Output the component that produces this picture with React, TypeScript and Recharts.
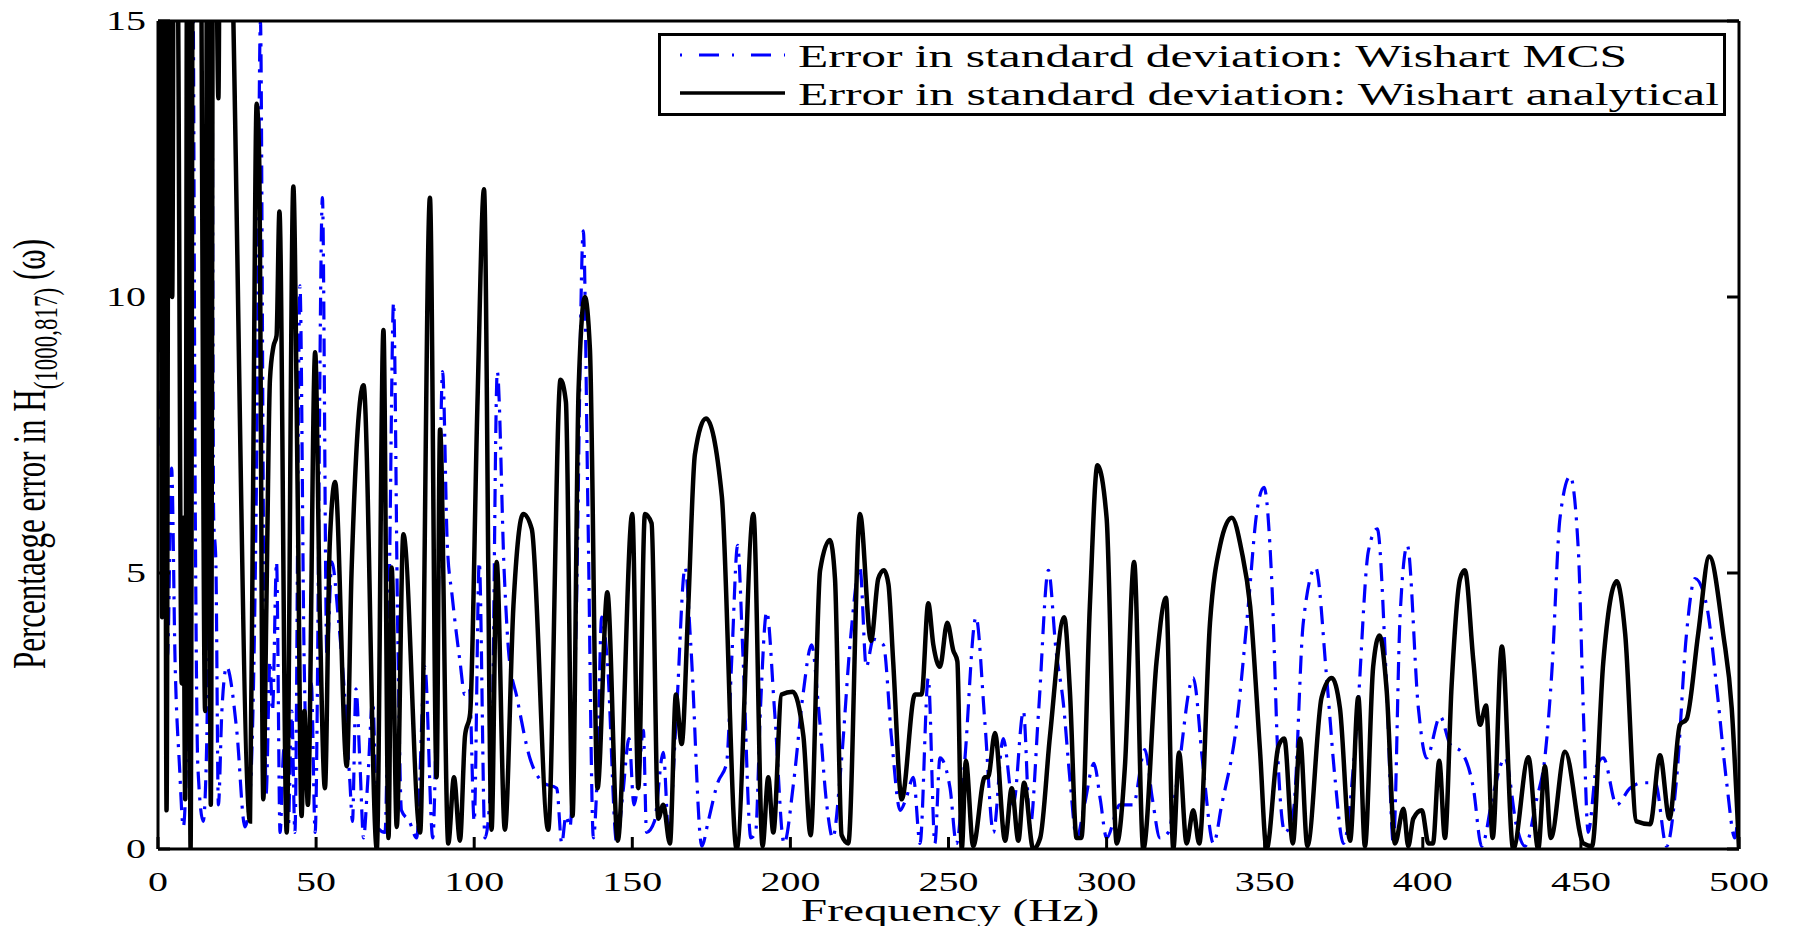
import React from 'react';
import { LineChart, Line, XAxis, YAxis, Legend } from 'recharts';

// ---------------- data ----------------
const xTickValues = [0, 50, 100, 150, 200, 250, 300, 350, 400, 450, 500];
const yTickValues = [0, 5, 10, 15];

const seriesNames = [
  'Error in standard deviation: Wishart MCS',
  'Error in standard deviation: Wishart analytical',
];

// Wishart MCS (blue dash-dot)
const mcsFreq = [
  0, 1.5, 3.0, 4.3, 5.4, 6.8, 8.0, 9.3, 10.2, 11.0, 11.8, 12.6, 14.3, 15.4, 16.3, 17.0, 17.6, 18.3, 19.1, 20.2,
  21.7, 24.9, 27.5, 29.1, 31.2, 32.4, 33.4, 34.2, 35.4, 36.2, 37.5, 38.6, 39.8, 41.2, 42.3, 43.3, 44.9, 46.2, 47.2, 48.5,
  49.7, 52.0, 53.4, 55.0, 57.0, 59.0, 60.7, 61.5, 62.6, 63.9, 65.0, 66.3, 67.9, 69.3, 71.8, 73.2, 74.5, 75.8, 77.0, 79.5,
  81.8, 84.4, 86.9, 88.5, 90.0, 91.5, 93.0, 95.5, 97.0, 98.5, 100.0, 101.6, 103.4, 105.5, 107.3, 109.5, 111.0, 113.5, 117.6, 121.9,
  126.1, 127.7, 129.0, 130.3, 132.2, 134.5, 136.0, 137.7, 139.0, 140.3, 142.0, 145.1, 147.0, 149.0, 150.5, 152.0, 153.5, 154.5, 157.0, 159.8,
  161.5, 164.0, 166.7, 168.5, 172.0, 174.0, 177.0, 179.8, 181.5, 183.3, 185.0, 187.5, 189.0, 190.5, 192.5, 195.0, 198.0, 201.0, 204.0, 206.7,
  209.0, 211.5, 213.4, 216.0, 219.0, 222.0, 224.0, 226.2, 229.4, 232.0, 234.7, 236.5, 238.9, 241.0, 243.6, 245.7, 247.3, 250.5, 252.5, 255.0,
  258.7, 261.5, 264.2, 267.3, 270.5, 273.7, 275.8, 278.5, 281.6, 284.0, 286.3, 288.5, 290.5, 293.0, 296.0, 298.0, 300.0, 304.2, 308.4, 312.1,
  314.5, 316.9, 319.5, 322.2, 327.4, 330.5, 333.8, 336.4, 341.1, 344.8, 347.5, 349.8, 352.2, 354.3, 356.4, 359.1, 362.2, 366.1, 369.6, 372.2,
  374.9, 379.1, 382.8, 385.6, 388.6, 390.7, 392.8, 395.1, 398.6, 401.2, 405.5, 408.6, 412.3, 416.0, 418.6, 422.3, 426.0, 429.7, 432.3, 436.0,
  438.6, 440.8, 443.4, 446.6, 449.2, 450.8, 452.3, 455.0, 457.1, 461.3, 465.5, 469.7, 473.5, 477.1, 480.3, 483.4, 486.1, 489.8, 493.0, 496.1,
  498.7, 500.0,
];
const mcsError = [
  8.3, 6.5, 3.5, 6.9, 3.4, 1.5, 0.4, 2.5, 9, 16, 6, 1.5, 0.5, 1.9, 8, 16, 6, 5.2, 0.8, 2.5,
  3.3, 2.15, 0.4, 1.0, 7, 15, 5.4, 1.0, 3.4, 2.5, 5.2, 0.3, 1.8, 0.4, 2.5, 0.3, 10.2, 3.5, 1.5, 3.0,
  0.3, 11.8, 3.5, 5.2, 4.2, 2.8, 1.2, 0.5, 2.9, 1.5, 0.2, 1.2, 2.7, 0.4, 0.3, 5.0, 9.9, 4.0, 0.7, 0.5,
  0.2, 3.3, 0.2, 4.0, 8.65, 5.5, 4.6, 3.4, 2.8, 2.9, 0.5, 5.2, 0.2, 1.5, 8.65, 5.0, 3.5, 2.75, 1.65, 1.2,
  1.1, 0.1, 0.6, 0.4, 4.0, 11.2, 6.0, 0.2, 1.5, 4.2, 3.5, 0.1, 1.0, 2.0, 0.8, 1.3, 2.15, 0.3, 0.5, 1.75,
  0.3, 2.5, 5.1, 3.7, 0.05, 0.5, 1.2, 1.55, 3.5, 5.5, 3.5, 0.2, 0.3, 2.5, 4.3, 2.5, 0.1, 1.2, 2.8, 3.7,
  2.5, 0.8, 0.2, 1.5, 3.8, 5.1, 3.3, 3.8, 3.7, 2.0, 0.7, 0.9, 1.3, 0.1, 3.1, 0.1, 1.65, 1.1, 0.1, 1.5,
  4.2, 2.3, 0.3, 2.0, 0.8, 2.5, 0.4, 2.5, 5.05, 3.6, 2.65, 1.2, 0.2, 0.8, 1.55, 0.9, 0.2, 0.8, 0.8, 1.8,
  0.9, 0.2, 0.3, 1.2, 3.1, 1.5, 0.1, 0.8, 2.25, 4.4, 6.1, 6.55, 4.9, 1.5, 0.3, 0.7, 4.1, 5.1, 3.1, 1.3,
  0.1, 2.25, 5.4, 5.8, 2.9, 0.1, 4.2, 5.5, 2.55, 1.65, 2.4, 1.9, 1.75, 1.1, 0.05, 1.0, 1.65, 0.4, 0.05, 0.9,
  1.65, 3.2, 6.0, 6.75, 5.4, 2.45, 0.3, 1.5, 1.65, 0.8, 1.1, 1.2, 1.2, 0.05, 1.3, 3.9, 4.9, 4.4, 2.9, 1.2,
  0.2, 0.9,
];

// Wishart analytical (black solid)
const anaFreq = [
  0, 0.6, 1.3, 2.0, 2.7, 3.6, 4.5, 5.2, 6.3, 7.5, 8.0, 8.6, 9.4, 10.3, 11.2, 12.2, 13.0, 14.9, 15.7, 16.7,
  17.6, 18.4, 19.1, 19.9, 22.0, 23.5, 29.1, 30.0, 31.2, 32.0, 33.3, 34.3, 35.4, 36.5, 37.5, 38.4, 40.7, 42.8, 44.2, 45.4,
  46.3, 47.4, 49.7, 51.2, 52.8, 54.3, 56.0, 59.7, 61.2, 65.0, 69.2, 71.3, 72.9, 73.9, 75.5, 77.6, 82.9, 86.0, 88.1, 89.2,
  91.8, 93.6, 95.5, 97.1, 98.7, 101.0, 103.1, 105.5, 107.1, 109.7, 112.4, 115.5, 118.2, 123.4, 127.3, 129.0, 131.1, 133.0, 135.0, 136.6,
  139.0, 142.1, 145.4, 150.0, 151.9, 154.0, 156.1, 158.2, 159.8, 161.9, 163.8, 165.6, 167.7, 169.8, 173.3, 178.3, 183.0, 188.3, 191.2, 193.0,
  194.6, 197.2, 200.7, 204.1, 206.4, 209.4, 212.5, 214.1, 216.2, 218.3, 222.0, 225.5, 227.8, 229.6, 231.0, 232.5, 235.2, 239.4, 241.5, 243.6, 245.2,
  247.3, 249.6, 251.5, 252.8, 254.2, 255.5, 257.8, 261.5, 262.5, 264.7, 267.9, 270.0, 272.1, 273.9, 276.8, 279.0, 282.1, 286.6, 288.4, 290.5,
  292.0, 294.7, 297.1, 300.0, 303.2, 305.8, 308.7, 311.6, 315.8, 318.8, 321.1, 322.9, 325.3, 327.4, 329.3, 332.7, 335.9, 339.6, 342.7, 345.4,
  348.5, 350.6, 354.3, 356.2, 358.9, 361.2, 363.5, 368.0, 371.2, 373.8, 377.0, 379.6, 381.7, 384.3, 386.3, 388.6, 391.2, 393.9, 395.4, 397.0,
  399.7, 401.8, 403.2, 405.2, 407.0, 409.1, 411.8, 413.3, 416.0, 418.1, 420.0, 422.1, 425.0, 428.6, 433.4, 436.5, 438.6, 440.5, 445.0, 450.8,
  453.5, 457.1, 461.3, 464.0, 467.6, 471.9, 475.0, 478.0, 481.3, 483.4, 487.1, 490.6, 495.0, 497.7, 500.0,
];
const anaError = [
  9, 22, 4.2, 20, 0.7, 22, 10, 22, 16, 3.0, 6, 0.9, 22, 0, 22, 17, 22, 2.5, 22, 0.8,
  22, 17, 13.6, 22, 20, 16, 0.5, 6, 13.5, 12.5, 0.9, 4.5, 8.5, 9.1, 9.3, 11.55, 0.3, 12.0, 6.3, 0.6,
  2.5, 0.8, 9.0, 4.2, 1.1, 5.5, 6.65, 1.5, 5.0, 8.4, 0, 9.4, 0.2, 5.1, 0.4, 5.7, 0.3, 11.8, 1.3, 7.6,
  0.1, 1.3, 0.15, 2.05, 2.45, 8.0, 11.95, 0.35, 5.2, 0.35, 4.4, 6.07, 5.8, 0.35, 8.5, 8.1, 0.6, 8.3, 10.0, 9.05,
  1.1, 4.65, 0.15, 6.07, 1.1, 6.07, 5.9, 0.55, 0.8, 0.1, 2.8, 1.9, 4.4, 7.15, 7.8, 6.4, 0, 6.07, 0.05, 1.3,
  0.3, 2.8, 2.85, 2.05, 0.25, 5.05, 5.6, 4.9, 0.25, 0.1, 6.07, 3.77, 4.9, 5.05, 4.8, 3.4, 0.9, 2.8, 2.8, 4.45, 3.7,
  3.3, 4.1, 3.6, 3.4, 0, 1.6, 0.05, 1.3, 1.3, 2.1, 0.15, 1.1, 0.15, 1.2, 0, 0.2, 2.05, 4.2, 2.85, 0.2,
  0.2, 4.4, 6.95, 6.0, 0.1, 1.5, 5.2, 0, 3.4, 4.55, 0, 1.75, 0.1, 0.7, 0.1, 4.1, 5.5, 6.0, 5.4, 4.4,
  1.8, 0, 1.85, 2.0, 0.1, 2.0, 0.05, 2.75, 3.1, 2.55, 0.15, 2.75, 0.05, 3.3, 3.87, 2.85, 0.1, 0.73, 0.05, 0.55,
  0.7, 0.1, 0.1, 1.6, 0.2, 2.95, 4.9, 5.05, 3.4, 2.25, 2.6, 0.2, 3.67, 0, 1.66, 0, 1.5, 0.2, 1.76, 0.1,
  0.05, 3.4, 4.85, 3.9, 0.5, 0.45, 1.7, 0.55, 2.25, 2.35, 3.9, 5.3, 3.9, 2.55, 0,
];

const mcsData = mcsFreq.map((f, i) => ({ f, v: mcsError[i] }));
const anaData = anaFreq.map((f, i) => ({ f, v: anaError[i] }));

// ---------------- layout ----------------
const W = 1780;
const H = 918;
const PL = 150;
const PR = 1731;
const PT = 13;
const PB = 841;
const TICK = 12;
const SX = 1.48;
const FONT = '"Liberation Serif", "Times New Roman", serif';

const BottomTick = (props: any) => {
  const { x, payload } = props;
  return (
    <g>
      <line x1={x} y1={PB} x2={x} y2={PB - TICK} stroke="#000" strokeWidth={3} />
      <text
        transform={`translate(${x},${PB + 42}) scale(${SX},1)`}
        textAnchor="middle"
        fontSize={27}
        fontFamily={FONT}
        fill="#000"
      >
        {payload.value}
      </text>
    </g>
  );
};

const TopTick = (props: any) => {
  const { x } = props;
  return <line x1={x} y1={PT} x2={x} y2={PT + TICK} stroke="#000" strokeWidth={3} />;
};

const LeftTick = (props: any) => {
  const { y, payload } = props;
  return (
    <g>
      <line x1={PL} y1={y} x2={PL + TICK} y2={y} stroke="#000" strokeWidth={3} />
      <text
        transform={`translate(${PL - 12},${y + 9}) scale(${SX},1)`}
        textAnchor="end"
        fontSize={27}
        fontFamily={FONT}
        fill="#000"
      >
        {payload.value}
      </text>
    </g>
  );
};

const RightTick = (props: any) => {
  const { y } = props;
  return <line x1={PR} y1={y} x2={PR - TICK} y2={y} stroke="#000" strokeWidth={3} />;
};

const YTitle = () => (
  <text
    transform={`translate(37,446) rotate(-90) scale(1,${SX})`}
    textAnchor="middle"
    fontSize={31}
    fontFamily={FONT}
    fill="#000"
  >
    <tspan>Percentaege error in H</tspan>
    <tspan fontSize={23} dy={8}>(1000,817)</tspan>
    <tspan dy={-8}> (ω)</tspan>
  </text>
);

const XTitle = () => (
  <text
    transform={`translate(942,913) scale(${SX},1)`}
    textAnchor="middle"
    fontSize={32}
    fontFamily={FONT}
    fill="#000"
  >
    Frequency (Hz)
  </text>
);

const LegendBox = () => (
  <svg width={1070} height={86} style={{ display: 'block', overflow: 'visible' }}>
    <rect x={1.5} y={1.5} width={1065} height={80} fill="#fff" stroke="#000" strokeWidth={3} />
    <line x1={22} y1={22} x2={127} y2={22} stroke="#0000ff" strokeWidth={3} strokeDasharray="2 17 20 13" />
    <text x={140} y={34} fontSize={32} fontFamily={FONT} fill="#000" textLength={829} lengthAdjust="spacingAndGlyphs">
      {seriesNames[0]}
    </text>
    <line x1={22} y1={60} x2={127} y2={60} stroke="#000" strokeWidth={3.5} />
    <text x={140} y={72} fontSize={32} fontFamily={FONT} fill="#000" textLength={921} lengthAdjust="spacingAndGlyphs">
      {seriesNames[1]}
    </text>
  </svg>
);

export default function App() {
  return (
    <div style={{ width: W, height: H }}>
      <style>{'html,body{overflow:hidden;}'}</style>
      <LineChart
        width={W}
        height={H}
        margin={{ top: PT - 1, right: W - PR - 1, left: 0, bottom: H - PB - 60 }}
      >
        <XAxis
          xAxisId="bottom"
          dataKey="f"
          type="number"
          domain={[0, 500]}
          ticks={xTickValues}
          allowDataOverflow
          height={60}
          tickSize={0}
          tickMargin={0}
          tickLine={false}
          axisLine={{ stroke: '#000', strokeWidth: 3 }}
          tick={BottomTick}
          label={XTitle}
        />
        <XAxis
          xAxisId="top"
          orientation="top"
          type="number"
          domain={[0, 500]}
          ticks={xTickValues}
          allowDataOverflow
          height={1}
          tickSize={0}
          tickMargin={0}
          tickLine={false}
          axisLine={{ stroke: '#000', strokeWidth: 3 }}
          tick={TopTick}
        />
        <YAxis
          yAxisId="left"
          type="number"
          domain={[0, 15]}
          ticks={yTickValues}
          allowDataOverflow
          width={PL}
          tickSize={0}
          tickMargin={0}
          tickLine={false}
          axisLine={{ stroke: '#000', strokeWidth: 3 }}
          tick={LeftTick}
          label={YTitle}
        />
        <YAxis
          yAxisId="right"
          orientation="right"
          type="number"
          domain={[0, 15]}
          ticks={yTickValues}
          allowDataOverflow
          width={1}
          tickSize={0}
          tickMargin={0}
          tickLine={false}
          axisLine={{ stroke: '#000', strokeWidth: 3 }}
          tick={RightTick}
        />
        <Line
          xAxisId="bottom"
          yAxisId="left"
          data={mcsData}
          dataKey="v"
          name={seriesNames[0]}
          type="monotone"
          stroke="#0000ff"
          strokeWidth={3.2}
          strokeDasharray="18 8 3 8"
          dot={false}
          activeDot={false}
          isAnimationActive={false}
        />
        <Line
          xAxisId="bottom"
          yAxisId="left"
          data={anaData}
          dataKey="v"
          name={seriesNames[1]}
          type="monotone"
          stroke="#000"
          strokeWidth={4.5}
          dot={false}
          activeDot={false}
          isAnimationActive={false}
        />
        <Legend
          layout="horizontal"
          verticalAlign="middle"
          align="center"
          content={LegendBox}
          wrapperStyle={{ position: 'absolute', left: 650, top: 25, width: 1070, height: 86 }}
        />
      </LineChart>
    </div>
  );
}
